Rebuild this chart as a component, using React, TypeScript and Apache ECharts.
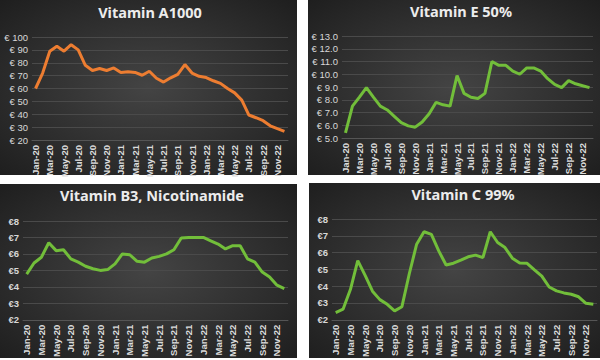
import React, { useEffect, useRef } from "react";
import * as echarts from "echarts";

const months = [
  "Jan-20","Feb-20","Mar-20","Apr-20","May-20","Jun-20","Jul-20","Aug-20","Sep-20","Oct-20","Nov-20","Dec-20",
  "Jan-21","Feb-21","Mar-21","Apr-21","May-21","Jun-21","Jul-21","Aug-21","Sep-21","Oct-21","Nov-21","Dec-21",
  "Jan-22","Feb-22","Mar-22","Apr-22","May-22","Jun-22","Jul-22","Aug-22","Sep-22","Oct-22","Nov-22","Dec-22",
];

const vitaminA = [60, 72, 89, 92.8, 89, 94, 90, 78, 74, 75.5, 74, 76, 72.4, 73, 72.5, 70.3, 73.4, 68, 65, 68.3, 71, 78.6, 72, 69.5, 68.5, 66, 64, 60, 56.6, 51, 39.4, 37.3, 35, 31, 28.8, 26.7];
const vitaminE = [5.4, 7.5, 8.2, 8.95, 8.2, 7.5, 7.2, 6.7, 6.2, 5.95, 5.85, 6.25, 6.9, 7.8, 7.6, 7.5, 9.9, 8.5, 8.2, 8.1, 8.5, 11.0, 10.7, 10.7, 10.25, 10.0, 10.5, 10.5, 10.25, 9.65, 9.2, 8.95, 9.5, 9.25, 9.1, 8.95];
const vitaminB3 = [4.77, 5.45, 5.8, 6.68, 6.2, 6.25, 5.7, 5.5, 5.25, 5.1, 5.0, 5.05, 5.4, 6.0, 5.95, 5.55, 5.5, 5.75, 5.85, 6.0, 6.25, 6.97, 7.0, 7.0, 7.0, 6.8, 6.6, 6.3, 6.5, 6.5, 5.7, 5.5, 4.9, 4.6, 4.1, 3.9];
const vitaminC = [2.43, 2.63, 3.8, 5.52, 4.64, 3.7, 3.2, 2.92, 2.53, 2.78, 4.74, 6.5, 7.24, 7.08, 6.1, 5.26, 5.37, 5.55, 5.75, 5.85, 5.7, 7.24, 6.6, 6.3, 5.67, 5.38, 5.36, 4.97, 4.6, 3.95, 3.72, 3.6, 3.52, 3.37, 2.98, 2.92];

const titles = ["Vitamin A1000", "Vitamin E 50%", "Vitamin B3, Nicotinamide", "Vitamin C 99%"];

export default function App() {
  const ref = useRef<HTMLDivElement>(null);
  useEffect(() => {
    const chart = echarts.init(ref.current!, null, { renderer: "svg" });
    const panels = [
      { x: 0, y: 0, w: 297, h: 175 },
      { x: 308, y: 0, w: 292, h: 175 },
      { x: 0, y: 184, w: 297, h: 174 },
      { x: 309, y: 183, w: 291, h: 175 },
    ];
    const grids = [
      { left: 32, right: 312, top: 37, bottom: 220 },
      { left: 342, right: 7, top: 36, bottom: 222 },
      { left: 23, right: 312, top: 221, bottom: 37 },
      { left: 332, right: 3, top: 219, bottom: 38 },
    ];
    const yCfg = [
      { min: 20, max: 100, interval: 10, fmt: (v: number) => "€ " + v, bold: false },
      { min: 5, max: 13, interval: 1, fmt: (v: number) => "€ " + v.toFixed(1), bold: false },
      { min: 2, max: 8, interval: 1, fmt: (v: number) => "€" + v, bold: true },
      { min: 2, max: 8, interval: 1, fmt: (v: number) => "€" + v, bold: true },
    ];
    const data = [vitaminA, vitaminE, vitaminB3, vitaminC];
    const colors = ["#ED7D31", "#72BE3A", "#72BE3A", "#72BE3A"];
    const titlePos = [
      { x: 150, y: 12 },
      { x: 461, y: 11 },
      { x: 152, y: 195 },
      { x: 463, y: 194 },
    ];

    const graphic: any[] = [];
    panels.forEach((p) => {
      graphic.push({
        type: "rect",
        z: -10,
        shape: { x: p.x, y: p.y, width: p.w, height: p.h },
        style: {
          fill: new echarts.graphic.RadialGradient(0.5, 0.5, 0.75, [
            { offset: 0, color: "#444444" },
            { offset: 1, color: "#1c1c1c" },
          ]),
        },
      });
    });
    titles.forEach((t, i) => {
      graphic.push({
        type: "text",
        z: 10,
        x: titlePos[i].x,
        y: titlePos[i].y,
        style: {
          text: t,
          fill: "#ececec",
          font: "bold 14.5px 'Noto Sans'",
          align: "center",
          verticalAlign: "middle",
        },
      });
    });

    const labelFont = "'Liberation Sans Narrow', 'Liberation Sans'";

    chart.setOption({
      animation: false,
      backgroundColor: "#ffffff",
      graphic,
      grid: grids.map((g) => ({ ...g, containLabel: false })),
      xAxis: grids.map((_, i) => ({
        type: "category",
        gridIndex: i,
        data: months,
        boundaryGap: true,
        axisTick: { show: false },
        axisLine: { show: true, lineStyle: { color: "#555555" } },
        axisLabel: {
          rotate: 90,
          interval: 1,
          margin: 5,
          color: "#dcdcdc",
          fontSize: 9.5,
          fontFamily: labelFont,
          fontWeight: "bold",
        },
      })),
      yAxis: yCfg.map((c, i) => ({
        type: "value",
        gridIndex: i,
        min: c.min,
        max: c.max,
        interval: c.interval,
        axisLine: { show: false },
        axisTick: { show: false },
        splitLine: { lineStyle: { color: "#4a4a4a", width: 1 } },
        axisLabel: {
          formatter: c.fmt,
          color: "#d8d8d8",
          fontSize: 9.5,
          margin: 4,
          fontFamily: labelFont,
          fontWeight: c.bold ? "bold" : "normal",
        },
      })),
      series: data.map((d, i) => ({
        type: "line",
        xAxisIndex: i,
        yAxisIndex: i,
        data: d,
        showSymbol: false,
        lineStyle: { color: colors[i], width: 3 },
        itemStyle: { color: colors[i] },
      })),
    });
    return () => chart.dispose();
  }, []);
  return (
    <div
      ref={ref}
      style={{ position: "absolute", left: 0, top: 0, width: 600, height: 360 }}
    />
  );
}
